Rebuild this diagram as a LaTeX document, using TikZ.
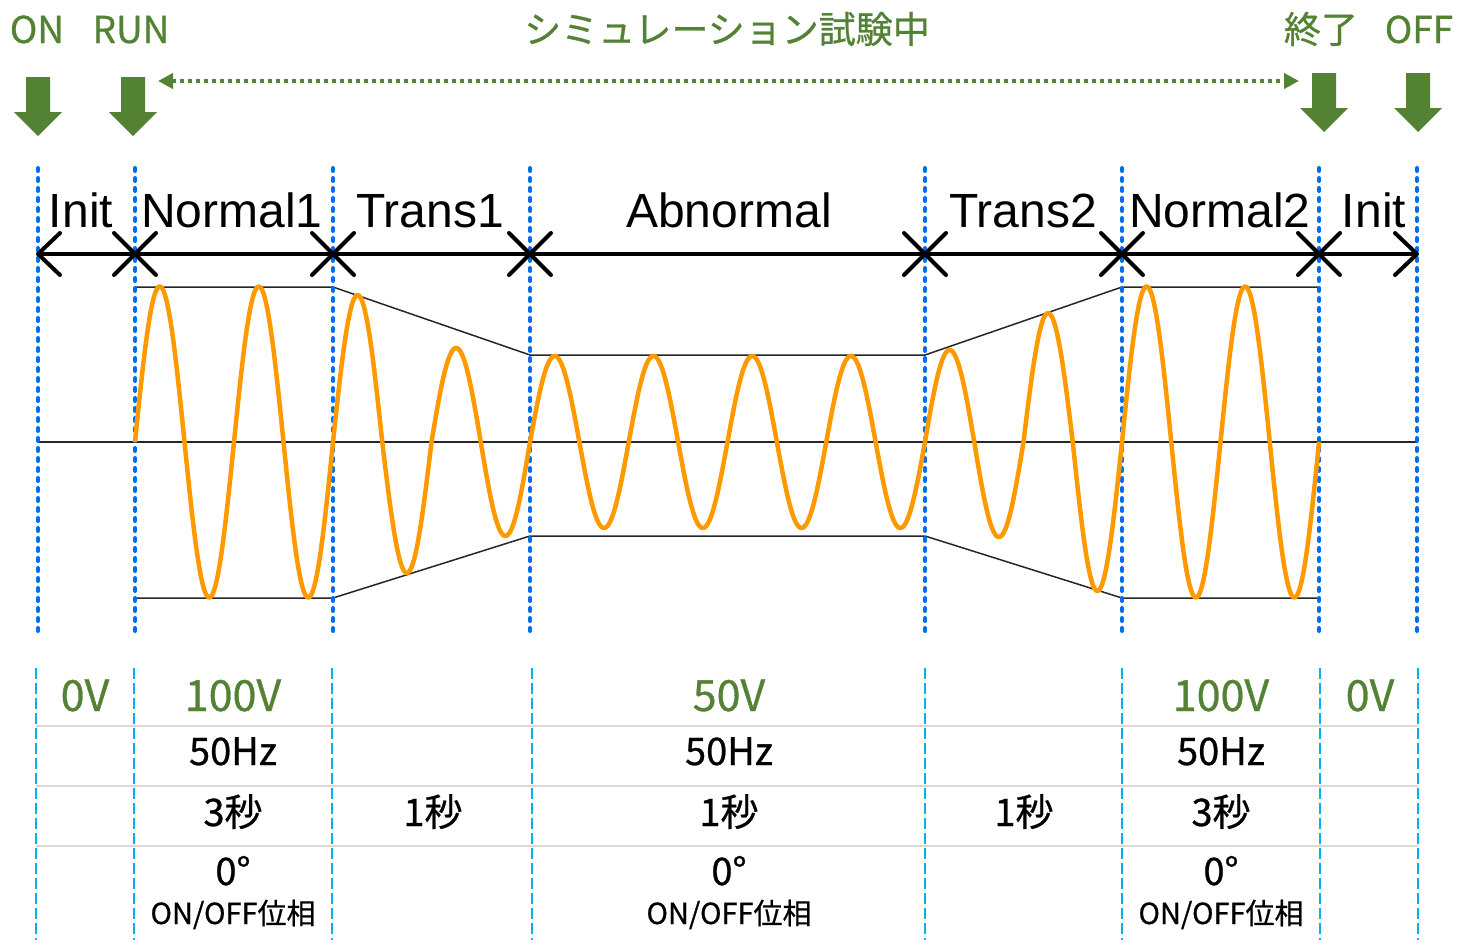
\documentclass[tikz,border=0pt]{standalone}
\usepackage{fontspec}
\setmainfont{Liberation Sans}
\newfontfamily\jp[RawFeature={embolden=0.7}]{Noto Sans CJK JP}
\usetikzlibrary{arrows.meta}
\definecolor{tgreen}{RGB}{84,130,53}
\definecolor{tblue}{RGB}{0,110,240}
\definecolor{tcyan}{RGB}{0,176,240}
\definecolor{torange}{RGB}{255,153,0}
\definecolor{tgray}{RGB}{217,217,217}
\begin{document}
\begin{tikzpicture}[x=1pt,y=-1pt,
  sepline/.style={tblue, line width=4pt, line cap=round, dash pattern=on 3pt off 7pt},
  tabline/.style={tcyan, line width=2.5pt, dash pattern=on 11pt off 4pt},
  rowline/.style={tgray, line width=2pt},
  axisline/.style={black, line width=4pt},
  xmark/.style={black, line width=4pt, line cap=round, line join=round},
  envline/.style={black!85, line width=1.5pt},
  wave/.style={torange, line width=4.5pt, line join=round},
  garrow/.style={fill=tgreen, draw=none},
  spanline/.style={tgreen, line width=4pt, dash pattern=on 4pt off 4pt,
     {Triangle[length=15pt,width=15pt]}-{Triangle[length=15pt,width=15pt]}},
  lab/.style={inner sep=0pt, anchor=base, font=\fontsize{48}{50}\selectfont},
  glab/.style={inner sep=0pt, anchor=base, text=tgreen, font=\jp\fontsize{37}{40}\selectfont},
  gval/.style={inner sep=0pt, anchor=base, text=tgreen, font=\jp\fontsize{43}{46}\selectfont},
  tval/.style={inner sep=0pt, anchor=base, font=\jp\fontsize{38}{40}\selectfont},
  tsmall/.style={inner sep=0pt, anchor=base, font=\jp\fontsize{29}{31}\selectfont}
]
\useasboundingbox (0,0) rectangle (1460,940);

% ---- top green labels ----
\node[glab] (on) at (37,43) {ON};
\node[glab] (run) at (131,43) {RUN};
\node[glab] (sim) at (727,43) {シミュレーション試験中};
\node[glab] (end) at (1321,43) {終了};
\node[glab] (off) at (1419,43) {OFF};

% ---- green down arrows ----
\foreach \c/\t in {38/77, 133/77, 1324/73, 1418/73}{
  \fill[garrow] (\c-12,\t) -- (\c+12,\t) -- (\c+12,\t+35) -- (\c+24,\t+35)
     -- (\c,\t+59) -- (\c-24,\t+35) -- (\c-12,\t+35) -- cycle;
}
\coordinate (spanL) at (158,81);
\coordinate (spanR) at (1299,81);
\draw[spanline] (spanL) -- (spanR);

% ---- waveform area ----
\draw[envline] (38,442) -- (1417,442);
\draw[envline] (135,287) -- (333,287) -- (530,355) -- (925,355) -- (1122,287) -- (1319,287);
\draw[envline] (135,598) -- (333,598) -- (530,536) -- (925,536) -- (1122,598) -- (1319,598);

% separators
\foreach \n/\xx in {s0/38, s1/135, s2/333, s3/530, s4/925, s5/1122, s6/1319, s7/1417}{
  \coordinate (\n) at (\xx,254);
  \draw[sepline] (\xx,168) -- (\xx,631);
}

% wave (half cycles: start / width / signed amplitude)
\draw[wave] (135,442)
  \foreach \s/\w/\a in {
    135/49.5/155.5, 184.5/49.5/-155.5, 234/49.5/155.5, 283.5/49.5/-155.5,
    333/49.25/147, 382.25/49.25/-131, 431.5/49.25/94, 480.75/49.25/-94,
    530/49.375/86, 579.375/49.375/-86, 628.75/49.375/86, 678.125/49.375/-86,
    727.5/49.375/86, 776.875/49.375/-86, 826.25/49.375/86, 875.625/49.375/-86,
    925/49.25/92, 974.25/49.25/-95, 1023.5/49.25/129, 1072.75/49.25/-149,
    1122/49.25/155.5, 1171.25/49.25/-155.5, 1220.5/49.25/155.5, 1269.75/49.25/-155.5}
  { -- plot[variable=\t, domain=0:180, samples=41] ({\s+\w*\t/180},{442-\a*sin(\t)}) };

% time axis
\draw[axisline] (s0) -- (s7);
\draw[xmark] (60,233) -- (s0) -- (60,275);
\draw[xmark] (1395,233) -- (s7) -- (1395,275);
\foreach \n in {s1,s2,s3,s4,s5,s6}{
  \draw[xmark] ([shift={(-21,-21)}]\n) -- ([shift={(21,21)}]\n)
               ([shift={(-21,21)}]\n) -- ([shift={(21,-21)}]\n);
}

% phase labels
\node[lab] (l0) at (81,227) {Init};
\node[lab] (l1) at (232,227) {Normal1};
\node[lab] (l2) at (430,227) {Trans1};
\node[lab] (l3) at (729,227) {Abnormal};
\node[lab] (l4) at (1023,227) {Trans2};
\node[lab] (l5) at (1220,227) {Normal2};
\node[lab] (l6) at (1374,227) {Init};

% ---- table ----
\foreach \yy in {726,786,846}{
  \draw[rowline] (36,\yy) -- (1418,\yy);
}
\foreach \xx in {36,134,332,532,925,1122,1320,1418}{
  \draw[tabline] (\xx,668) -- (\xx,940);
}

\node[gval] (v0) at (85,711) {0V};
\node[gval] (v1) at (233,711) {100V};
\node[gval] (v2) at (729,711) {50V};
\node[gval] (v3) at (1221,711) {100V};
\node[gval] (v4) at (1370,711) {0V};

\node[tval] (f1) at (233,765) {50Hz};
\node[tval] (f2) at (729,765) {50Hz};
\node[tval] (f3) at (1221,765) {50Hz};

\node[tval] (d1) at (233,826) {3秒};
\node[tval] (d2) at (433,826) {1秒};
\node[tval] (d3) at (729,826) {1秒};
\node[tval] (d4) at (1024,826) {1秒};
\node[tval] (d5) at (1221,826) {3秒};

\node[tval] (p1) at (233,885) {0°};
\node[tval] (p2) at (729,885) {0°};
\node[tval] (p3) at (1221,885) {0°};
\node[tsmall] (q1) at (233,924) {ON/OFF位相};
\node[tsmall] (q2) at (729,924) {ON/OFF位相};
\node[tsmall] (q3) at (1221,924) {ON/OFF位相};
\end{tikzpicture}
\end{document}
